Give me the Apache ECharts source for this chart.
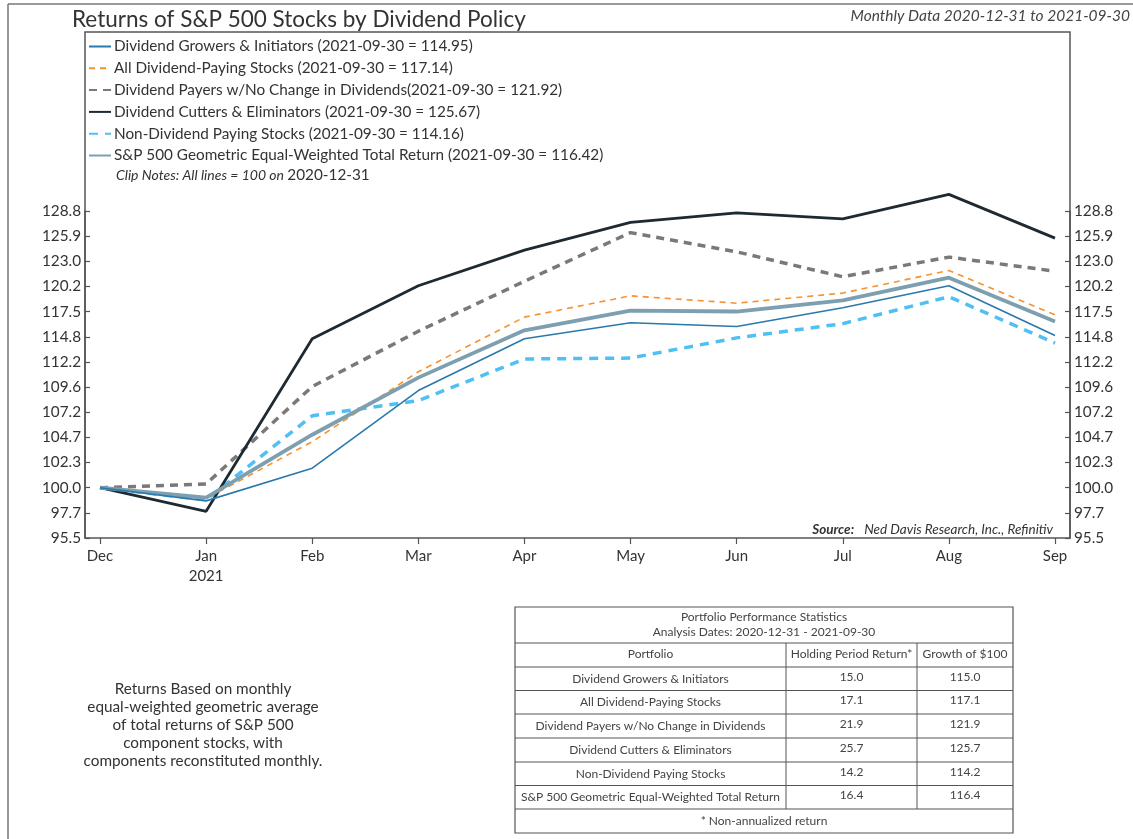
<!DOCTYPE html>
<html>
<head>
<meta charset="utf-8">
<title>Returns of S&P 500 Stocks by Dividend Policy</title>
<script src="https://cdn.jsdelivr.net/npm/echarts@6/dist/echarts.min.js"></script>
<style>
  html, body { margin: 0; padding: 0; background: #fff; }
  #DividendChart { width: 1133px; height: 839px; }
</style>
</head>
<body>
<div id="DividendChart"></div>
<script>
// monthly index levels, 100 = 2020-12-31
var months = ['Dec', 'Jan', 'Feb', 'Mar', 'Apr', 'May', 'Jun', 'Jul', 'Aug', 'Sep'];
var growers   = [100, 98.8, 101.8, 109.3, 114.6, 116.3, 115.9, 117.9, 120.3, 114.95];
var allPayers = [100, 99.0, 104.3, 111.2, 116.9, 119.2, 118.4, 119.5, 122.0, 117.14];
var noChange  = [100, 100.34, 109.7, 115.4, 120.8, 126.3, 124.1, 121.3, 123.5, 121.92];
var cutters   = [100, 97.86, 114.6, 120.3, 124.3, 127.5, 128.6, 127.9, 130.8, 125.67];
var nonPayers = [100, 98.9, 106.8, 108.3, 112.5, 112.6, 114.7, 116.2, 119.1, 114.16];
var spEqual   = [100, 99.1, 104.97, 110.6, 115.5, 117.6, 117.5, 118.7, 121.2, 116.42];

var seriesNames = [
  'Dividend Growers & Initiators (2021-09-30 = 114.95)',
  'All Dividend-Paying Stocks (2021-09-30 = 117.14)',
  'Dividend Payers w/No Change in Dividends(2021-09-30 = 121.92)',
  'Dividend Cutters & Eliminators (2021-09-30 = 125.67)',
  'Non-Dividend Paying Stocks (2021-09-30 = 114.16)',
  'S&P 500 Geometric Equal-Weighted Total Return (2021-09-30 = 116.42)'
];

// axis runs on a log scale, ticks every 0.01 in log10
var logStep = Math.pow(10, 0.01);
var yMin = Math.pow(10, 1.98);
var yMax = Math.pow(10, 2.11);

// performance table
var tablePortfolios = [
  'Dividend Growers & Initiators',
  'All Dividend-Paying Stocks',
  'Dividend Payers w/No Change in Dividends',
  'Dividend Cutters & Eliminators',
  'Non-Dividend Paying Stocks',
  'S&P 500 Geometric Equal-Weighted Total Return'
];
var holdingReturn = ['15.0', '17.1', '21.9', '25.7', '14.2', '16.4'];
var growthOf100 = ['115.0', '117.1', '121.9', '125.7', '114.2', '116.4'];

var FONT = 'Lato, "Noto Sans", sans-serif';

function buildTable() {
  var cols = [515, 786, 917, 1013];
  var rows = [607, 643, 667, 690.5, 714, 738, 762, 785.5, 809, 833];
  var els = [];
  var lineStyle = { stroke: '#555', lineWidth: 1 };
  els.push({ type: 'rect', shape: { x: cols[0], y: rows[0], width: cols[3] - cols[0], height: rows[9] - rows[0] },
    style: { fill: '#fff', stroke: '#555', lineWidth: 1.2 } });
  for (var r = 1; r < rows.length - 1; r++) {
    els.push({ type: 'line', shape: { x1: cols[0], y1: rows[r], x2: cols[3], y2: rows[r] }, style: lineStyle });
  }
  [1, 2].forEach(function (c) {
    els.push({ type: 'line', shape: { x1: cols[c], y1: rows[1], x2: cols[c], y2: rows[8] }, style: lineStyle });
  });
  function txt(x, y, s) {
    els.push({ type: 'text', x: x, y: y, style: { text: s, fill: '#444', font: '12px ' + FONT, textAlign: 'center', textVerticalAlign: 'middle' } });
  }
  var midX = (cols[0] + cols[3]) / 2;
  txt(midX, 617, 'Portfolio Performance Statistics');
  txt(midX, 632, 'Analysis Dates: 2020-12-31 - 2021-09-30');
  txt((cols[0] + cols[1]) / 2, 654, 'Portfolio');
  txt((cols[1] + cols[2]) / 2, 654, 'Holding Period Return*');
  txt((cols[2] + cols[3]) / 2, 654, 'Growth of $100');
  for (var i = 0; i < tablePortfolios.length; i++) {
    var cy = (rows[i + 2] + rows[i + 3]) / 2;
    txt((cols[0] + cols[1]) / 2, cy, tablePortfolios[i]);
    txt((cols[1] + cols[2]) / 2, cy - 2, holdingReturn[i]);
    txt((cols[2] + cols[3]) / 2, cy - 2, growthOf100[i]);
  }
  txt(midX, 821, '* Non-annualized return');
  return els;
}

var myChart = echarts.init(document.getElementById('DividendChart'), null, { renderer: 'canvas' });

function lineSeries(name, data, color, width, dash, z) {
  return {
    name: name,
    type: 'line',
    data: data,
    symbol: 'none',
    clip: false,
    z: z,
    lineStyle: { color: color, width: width, type: dash || 'solid' },
    itemStyle: { color: color }
  };
}

var option = {
  animation: false,
  backgroundColor: '#fff',
  textStyle: { fontFamily: FONT },
  legend: {
    orient: 'vertical',
    left: 83,
    top: 34,
    itemWidth: 22,
    itemHeight: 14,
    itemGap: 6.8,
    selectedMode: false,
    itemStyle: { opacity: 0 },
    textStyle: { fontSize: 15.3, color: '#333', fontFamily: FONT, padding: [0, 0, 0, -2] },
    data: seriesNames
  },
  grid: { left: 100, right: 78, top: 211, height: 327 },
  xAxis: {
    type: 'category',
    boundaryGap: false,
    data: months,
    axisLine: { show: false },
    axisTick: { show: true, length: 6, alignWithLabel: true, lineStyle: { color: '#555', width: 1.2 } },
    axisLabel: {
      color: '#333', fontSize: 15, margin: 8, lineHeight: 20,
      formatter: function (v) { return v === 'Jan' ? 'Jan\n2021' : v; }
    },
    splitLine: { show: false }
  },
  yAxis: [0, 1].map(function (i) {
    return {
      type: 'log',
      logBase: logStep,
      min: yMin,
      max: yMax,
      interval: 1,
      position: i === 0 ? 'left' : 'right',
      offset: 15,
      axisLine: { show: true, lineStyle: { color: '#555', width: 1.5 } },
      axisTick: { show: true, inside: true, length: 5, lineStyle: { color: '#555', width: 1.2 } },
      axisLabel: {
        color: '#333', fontSize: 15.3, margin: 4,
        formatter: function (v) { return v.toFixed(1); }
      },
      splitLine: { show: false }
    };
  }),
  graphic: [
    { type: 'line', shape: { x1: 8, y1: 4, x2: 1133, y2: 4 }, style: { stroke: '#777', lineWidth: 1.5 } },
    { type: 'line', shape: { x1: 8, y1: 4, x2: 8, y2: 839 }, style: { stroke: '#777', lineWidth: 1.5 } },
    { type: 'rect', shape: { x: 85, y: 32, width: 985, height: 506 }, style: { fill: 'none', stroke: '#555', lineWidth: 1.5 }, z: -1 },
    { type: 'text', x: 72, y: 8, style: { text: 'Returns of S&P 500 Stocks by Dividend Policy', fill: '#333', font: '22.5px ' + FONT } },
    { type: 'text', x: 1130, y: 8, style: { text: 'Monthly Data 2020-12-31 to 2021-09-30', fill: '#444', font: 'italic 15.5px ' + FONT, textAlign: 'right' } },
    { type: 'text', x: 116, y: 168, style: {
        text: '{i|Clip Notes: All lines = 100 on} {n|2020-12-31}',
        rich: {
          i: { fontFamily: FONT, fontStyle: 'italic', fontSize: 14, fill: '#333' },
          n: { fontFamily: FONT, fontSize: 15.3, fill: '#333' }
        }
      } },
    { type: 'text', x: 1053, y: 523, style: {
        text: '{b|Source:}   {i|Ned Davis Research, Inc., Refinitiv}',
        textAlign: 'right',
        rich: {
          b: { fontFamily: FONT, fontStyle: 'italic', fontWeight: 'bold', fontSize: 13.5, fill: '#333' },
          i: { fontFamily: FONT, fontStyle: 'italic', fontSize: 13.5, fill: '#333' }
        }
      } },
    { type: 'text', x: 203, y: 680, style: {
        text: 'Returns Based on monthly\nequal-weighted geometric average\nof total returns of S&P 500\ncomponent stocks, with\ncomponents reconstituted monthly.',
        fill: '#333', font: '15.3px ' + FONT, textAlign: 'center', lineHeight: 18
      } }
  ].concat(buildTable()),
  series: [
    lineSeries(seriesNames[0], growers, '#2a79ad', 1.6, null, 6),
    lineSeries(seriesNames[1], allPayers, '#f7922e', 1.6, [6, 5], 5),
    lineSeries(seriesNames[2], noChange, '#7b7878', 3.5, [8, 6], 3),
    lineSeries(seriesNames[3], cutters, '#1e2a31', 2.8, null, 4),
    lineSeries(seriesNames[4], nonPayers, '#4fc0f3', 3.5, [9, 7], 2),
    lineSeries(seriesNames[5], spEqual, '#7d9fb0', 3.8, null, 5)
  ]
};

myChart.setOption(option);
</script>
</body>
</html>
